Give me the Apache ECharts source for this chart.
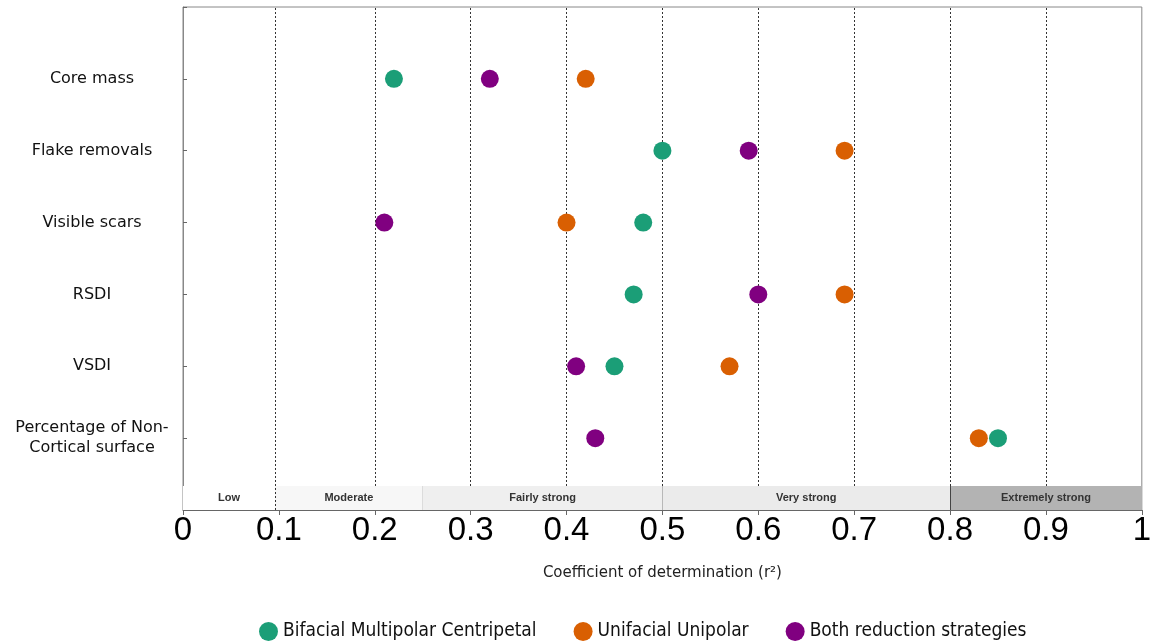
<!DOCTYPE html>
<html>
<head>
<meta charset="utf-8">
<script src="https://cdn.jsdelivr.net/npm/echarts@6/dist/echarts.min.js"></script>
<style>
  html, body { margin: 0; padding: 0; background: #fff; }
  #main { width: 1154px; height: 644px; }
</style>
</head>
<body>
<div id="main"></div>
<script>
// variables (rows from top to bottom)
var categories = ['Core mass', 'Flake removals', 'Visible scars', 'RSDI', 'VSDI', 'Percentage of Non-\nCortical surface'];
// r² per reduction strategy
var bifacial = [0.22, 0.50, 0.48, 0.47, 0.45, 0.85];
var unifacial = [0.42, 0.69, 0.40, 0.69, 0.57, 0.83];
var both = [0.32, 0.59, 0.21, 0.60, 0.41, 0.43];
var seriesNames = ['Bifacial Multipolar Centripetal', 'Unifacial Unipolar', 'Both reduction strategies'];
var colors = ['#1b9e77', '#d95f02', '#800080'];

// strength bands along the bottom
var bandEdges = [0, 0.096, 0.25, 0.5, 0.8, 1];
var bandLabels = ['Low', 'Moderate', 'Fairly strong', 'Very strong', 'Extremely strong'];
var bandColors = ['#ffffff', '#f7f7f7', '#efefef', '#ebebeb', '#b3b3b3'];
var dottedLines = [0.096, 0.2, 0.3, 0.4, 0.5, 0.6, 0.7, 0.8, 0.9];

var bandTop = 0.334;
var nRows = categories.length;

function rowY(i) { return nRows - i; }
function toPoints(arr) {
  return arr.map(function (v, i) { return [v, rowY(i)]; });
}

var areas = [];
for (var i = 0; i < bandLabels.length; i++) {
  areas.push([
    { xAxis: bandEdges[i], yAxis: 0, name: bandLabels[i], itemStyle: { color: bandColors[i] } },
    { xAxis: bandEdges[i + 1], yAxis: bandTop }
  ]);
}

var lines = dottedLines.map(function (x) {
  return [{ coord: [x, x < 0.1 ? 0 : bandTop] }, { coord: [x, nRows + 1] }];
});
// solid band separators
var sepColors = { 0.25: '#dcdcdc', 0.5: '#b8b8b8', 0.8: '#444' };
[0.25, 0.5, 0.8].forEach(function (x) {
  lines.push([
    { coord: [x, 0], lineStyle: { type: 'solid', color: sepColors[x] } },
    { coord: [x, bandTop] }
  ]);
});

var myChart = echarts.init(document.getElementById('main'));
var option = {
  animation: false,
  grid: {
    left: 183, right: 8, top: 7, bottom: 134,
    show: true, borderColor: '#888', borderWidth: 1, backgroundColor: 'transparent'
  },
  legend: {
    data: seriesNames,
    left: 254, top: 617,
    icon: 'circle', itemWidth: 19, itemHeight: 19, itemGap: 37,
    textStyle: { fontFamily: 'DejaVu Sans Condensed, DejaVu Sans', fontSize: 19, color: '#111' }
  },
  xAxis: {
    type: 'value', min: 0, max: 1, interval: 0.1,
    name: 'Coefficient of determination (r²)',
    nameLocation: 'middle', nameGap: 56,
    nameTextStyle: { fontFamily: 'DejaVu Sans', fontSize: 15, color: '#222' },
    axisLine: { lineStyle: { color: '#666' } },
    axisTick: { show: true, length: 5, lineStyle: { color: '#666' } },
    axisLabel: {
      fontFamily: 'Liberation Sans, Arial', fontSize: 33, color: '#000', margin: 4,
      formatter: function (v) { return String(Math.round(v * 10) / 10); }
    },
    splitLine: { show: false }
  },
  yAxis: {
    type: 'value', min: 0, max: nRows + 1, interval: 1,
    axisLine: { show: true, lineStyle: { color: '#888' } },
    axisTick: { show: true, inside: true, length: 4, lineStyle: { color: '#666' } },
    axisLabel: {
      fontFamily: 'DejaVu Sans', fontSize: 16, color: '#111', lineHeight: 20,
      align: 'center', margin: 91,
      formatter: function (v) {
        var i = nRows - v;
        return (i >= 0 && i < nRows && v > 0) ? categories[i] : '';
      }
    },
    splitLine: { show: false }
  },
  series: [
    {
      name: 'bands',
      type: 'scatter',
      data: [],
      silent: true,
      z: 1,
      markArea: {
        silent: true,
        label: {
          show: true, position: 'inside', fontFamily: 'Liberation Sans, Arial',
          fontSize: 11, fontWeight: 'bold', color: '#333'
        },
        data: areas
      },
      markLine: {
        silent: true, symbol: 'none',
        label: { show: false },
        lineStyle: { type: [2, 2], color: '#333', width: 1 },
        data: lines
      }
    }
  ].concat([bifacial, unifacial, both].map(function (arr, k) {
    return {
      name: seriesNames[k],
      type: 'scatter',
      symbol: 'circle',
      symbolSize: 18,
      z: 5,
      itemStyle: { color: colors[k], opacity: 1 },
      data: toPoints(arr)
    };
  }))
};
myChart.setOption(option);
</script>
</body>
</html>
